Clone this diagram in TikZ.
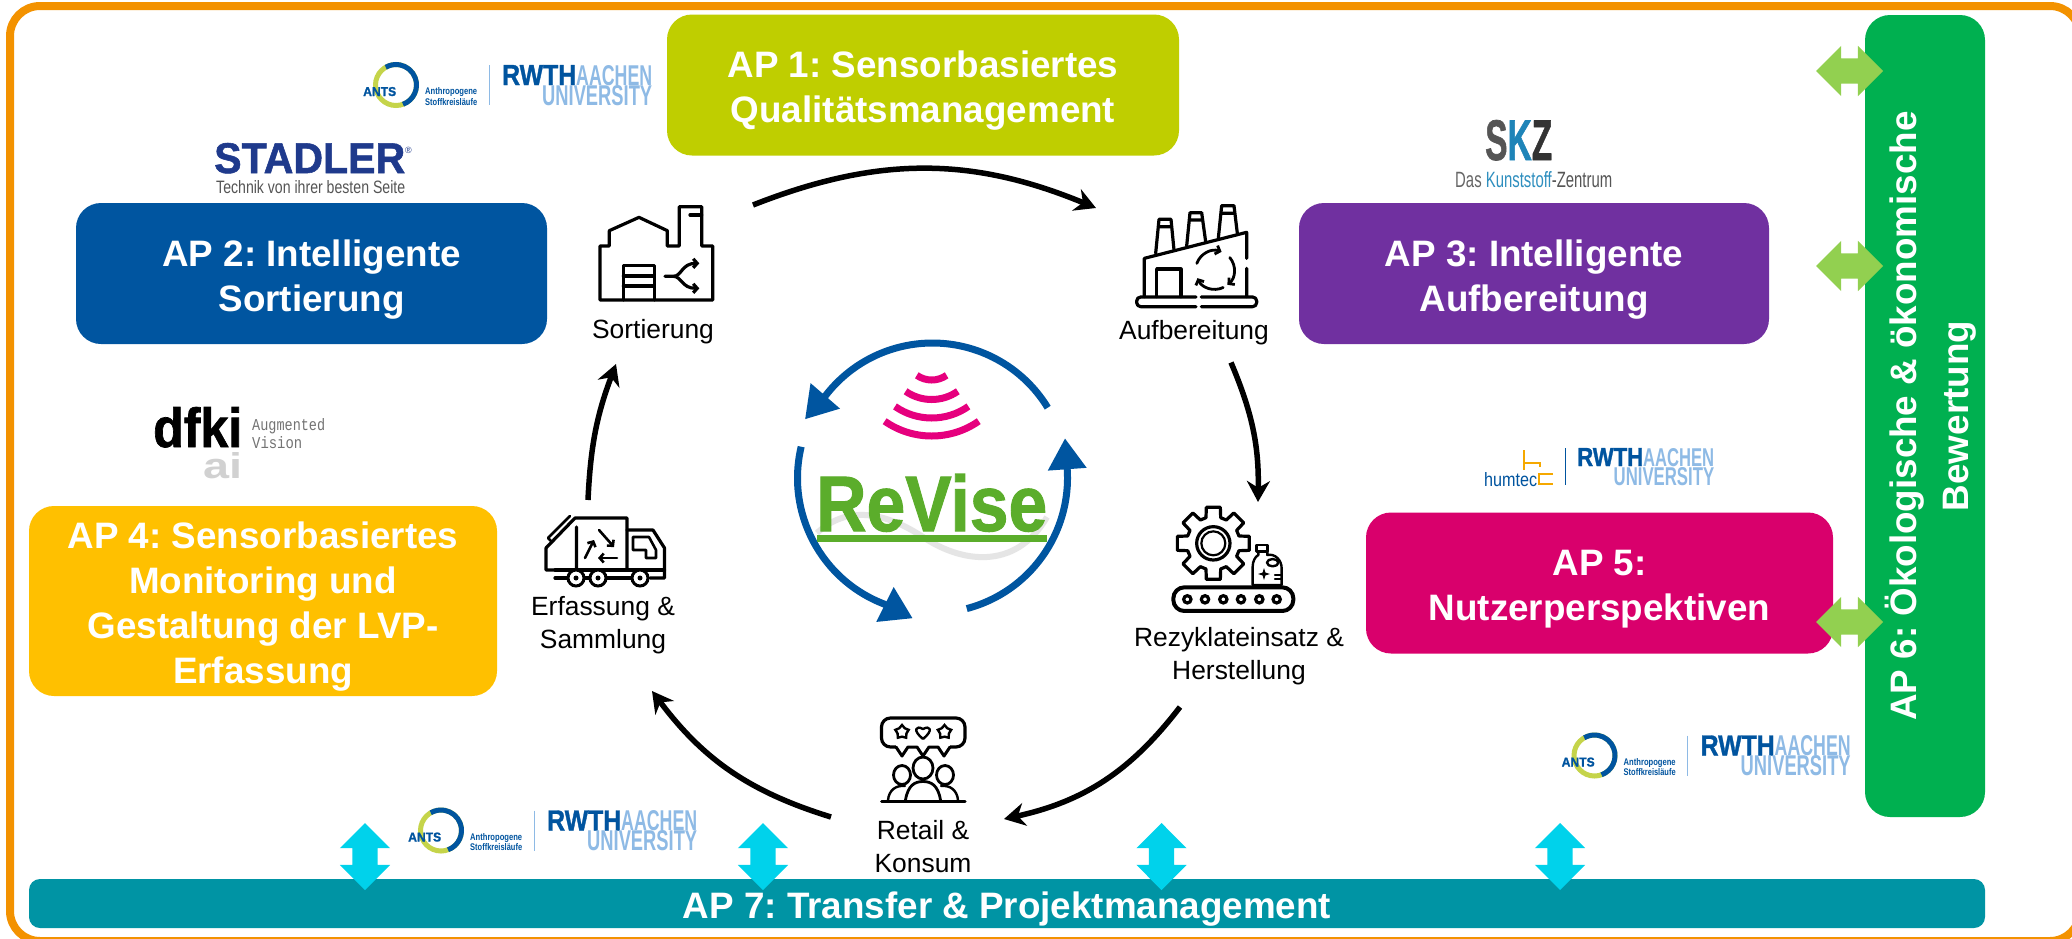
\documentclass[tikz,border=0pt]{standalone}
\usepackage{fontspec}
\setmainfont{Liberation Sans}
\newfontfamily\logomono{Liberation Mono}
\newfontfamily\heavyfont[UprightFont={* Bold},FakeBold=1.3]{Liberation Sans}
\usetikzlibrary{arrows.meta,shapes.arrows,shapes.geometric}
\definecolor{frameorange}{HTML}{F39200}
\definecolor{apyellow}{HTML}{BFCE00}
\definecolor{apblue}{HTML}{0055A0}
\definecolor{appurple}{HTML}{7030A0}
\definecolor{apamber}{HTML}{FFC000}
\definecolor{apmagenta}{HTML}{D9006C}
\definecolor{apgreen}{HTML}{00B050}
\definecolor{apteal}{HTML}{0094A4}
\definecolor{arrowgreen}{HTML}{92D050}
\definecolor{arrowcyan}{HTML}{00D2EB}
\definecolor{revisegreen}{HTML}{5BAD2B}
\definecolor{sensorpink}{HTML}{E6007E}
\definecolor{rwthblue}{HTML}{00549F}
\definecolor{rwthlight}{HTML}{8EBAE5}
\definecolor{antsyellow}{HTML}{C5D44A}
\definecolor{humorange}{HTML}{F5A800}
\newcommand{\fitlogo}[3]{\resizebox{#1pt}{#2pt}{#3}}
\newcommand{\aprule}{\rule{0pt}{38pt}}
\tikzset{
  apbox/.style={fill=#1,rounded corners=25pt,text=white,align=center,inner sep=0pt,%
    font=\fontsize{36.8}{45}\selectfont\bfseries\frenchspacing},
  steplabel/.style={align=center,inner sep=0pt,font=\fontsize{26.4}{33}\selectfont},
  logotext/.style={inner sep=0pt,anchor=base west},
  greenarrow/.style={shape=double arrow,fill=arrowgreen,inner sep=0pt,minimum height=67pt,%
    text height=12.5pt,text depth=12.5pt,double arrow head extend=12.5pt},
  cyanarrow/.style={shape=double arrow,fill=arrowcyan,inner sep=0pt,minimum height=67pt,%
    text height=12.5pt,text depth=12.5pt,double arrow head extend=12.5pt,rotate=90},
  cyclearrow/.style={line width=5.5pt,-{Stealth[length=21pt,width=23pt]}},
  bluearc/.style={line width=7pt,draw=apblue,-{Triangle[length=31pt,width=37pt]}},
  sensorarc/.style={line width=7pt,draw=sensorpink},
  icon/.style={draw=black,line width=3.2pt,line join=round,line cap=round},
  iconarrow/.style={icon,-{Straight Barb[length=4pt,width=9pt]}},
  rwthlogo/.pic={
    \draw[line width=5pt,antsyellow] (0,0) circle[radius=20.5] ;
    \draw[line width=5pt,rwthblue] (0,0) ++(70:20.5) arc[start angle=70,end angle=-120,radius=20.5] ;
    \node[logotext] (-ants) at (-33,11) {\color{rwthblue}\fitlogo{33}{9}{\heavyfont ANTS}} ;
    \node[logotext] (-ant1) at (29,9.5) {\color{rwthblue}\fitlogo{52}{7}{\bfseries Anthropogene}} ;
    \node[logotext] (-ant2) at (29,20) {\color{rwthblue}\fitlogo{52}{7}{\bfseries Stoffkreisläufe}} ;
    \draw[line width=1pt,rwthlight] (93,-20)--(93,20) ;
    \node[logotext] (-rwth) at (106,0) {\color{rwthblue}\fitlogo{74}{20}{\heavyfont RWTH}} ;
    \node[logotext] (-aach) at (180,0) {\color{rwthlight}\fitlogo{76}{20}{\bfseries AACHEN}} ;
    \node[logotext] (-univ) at (146,20) {\color{rwthlight}\fitlogo{110}{20}{\bfseries UNIVERSITY}} ;
  }
}
\begin{document}
\begin{tikzpicture}[x=1pt,y=-1pt]
      \clip (0,0) rectangle (2072,938) ;
      \fill[white] (0,0) rectangle (2072,938) ;
      \draw[line width=8pt,frameorange,rounded corners=30pt] (10,6) rectangle (2080,941) ;
      \node[apbox=apyellow,minimum width=512pt,minimum height=141pt] %
      (AP1) at (923,85) {\aprule AP 1: Sensorbasiertes\\Qualitätsmanagement} ;
      \node[apbox=apblue,minimum width=471pt,minimum height=141pt] %
      (AP2) at (311.5,273.5) {\aprule AP 2: Intelligente\\Sortierung} ;
      \node[apbox=appurple,minimum width=470pt,minimum height=141pt] %
      (AP3) at (1534,273.5) {\aprule AP 3: Intelligente\\Aufbereitung} ;
      \node[apbox=apamber,minimum width=468pt,minimum height=190pt] %
      (AP4) at (263,601) {\aprule AP 4: Sensorbasiertes\\Monitoring und\\Gestaltung der LVP-\\Erfassung} ;
      \node[apbox=apmagenta,minimum width=467pt,minimum height=141pt] %
      (AP5) at (1599.5,583) {\aprule AP 5:\\Nutzerperspektiven} ;
      \node[apbox=apgreen,rotate=90,minimum width=802pt,minimum height=120pt] %
      (AP6) at (1925,416) {\rule{0pt}{43pt}AP 6: Ökologische \& ökonomische\\[7pt]Bewertung} ;
      \node[apbox=apteal,rounded corners=11pt,minimum width=1956pt,minimum height=49pt] %
      (AP7) at (1007,903.5) {\aprule AP 7: Transfer \& Projektmanagement} ;
      \node[greenarrow] (G1) at (1849.5,71) {} ;
      \node[greenarrow] (G2) at (1849.5,266) {} ;
      \node[greenarrow] (G3) at (1849.5,622) {} ;
      \node[cyanarrow] (C1) at (365,856.5) {} ;
      \node[cyanarrow] (C2) at (763,856.5) {} ;
      \node[cyanarrow] (C3) at (1161.5,856.5) {} ;
      \node[cyanarrow] (C4) at (1560,856.5) {} ;
      \node[steplabel] (Sort) at (653,331.5) {Sortierung} ;
      \node[steplabel] (Aufb) at (1194,333) {Aufbereitung} ;
      \node[steplabel] (Rezy) at (1239,656) {Rezyklateinsatz \&\\Herstellung} ;
      \node[steplabel] (Reta) at (923,847) {Retail \&\\Konsum} ;
      \node[steplabel] (Erfa) at (603,625.5) {Erfassung \&\\Sammlung} ;
      \coordinate (S1) at (753,205) ;
      \coordinate (E1) at (1096,208) ;
      \coordinate (S2) at (1231,362.5) ;
      \coordinate (E2) at (1258,502) ;
      \coordinate (S3) at (1180,707) ;
      \coordinate (E3) at (1004,819) ;
      \coordinate (S4) at (831,817) ;
      \coordinate (E4) at (652,691) ;
      \coordinate (S5) at (588,500) ;
      \coordinate (E5) at (616,364) ;
      \draw[cyclearrow] (S1) to[bend left=22] (E1) ;
      \draw[cyclearrow] (S2) to[bend left=12] (E2) ;
      \draw[cyclearrow] (S3) to[bend left=20] (E3) ;
      \draw[cyclearrow] (S4) to[bend left=18] (E4) ;
      \draw[cyclearrow] (S5) to[bend left=9] (E5) ;
      \coordinate (RC) at (932.5,478) ;
      \coordinate (T1) at (805,419.3) ;
      \coordinate (T2) at (912.7,618.3) ;
      \coordinate (T3) at (1065,438.3) ;
      \draw[bluearc] (RC) ++(-31.4:135) arc[start angle=-31.4,end angle=-142,radius=135]--(T1) ;
      \draw[bluearc] (RC) ++(-166.6:135) arc[start angle=-166.6,end angle=-249,radius=135]--(T2) ;
      \draw[bluearc] (RC) ++(-284.7:135) arc[start angle=-284.7,end angle=-364,radius=135]--(T3) ;
      \coordinate (SA) at (931.7,354) ;
      \foreach \r in {26,45.5,64,82} {
        \draw[sensorarc] (SA) ++(55:\r) arc[start angle=55,end angle=125,radius=\r] ;
      }
      \draw[line width=6pt,black!10] (817,533) .. controls (847,505) and (885,512) .. (923,537) %
      .. controls (960,562) and (1015,572) .. (1047,517) ;
      \node[logotext] (RV) at (816,531) {\color{revisegreen}\fitlogo{231}{57}{\heavyfont ReVise}} ;
      \fill[revisegreen] (816.7,535) rectangle (1047,541.7) ;
      \pic (L1) at (396,85) {rwthlogo} ;
      \pic (L2) at (441,830.5) {rwthlogo} ;
      \pic (L3) at (1594.5,755.5) {rwthlogo} ;
      \node[logotext] (St) at (214,173) {\color[HTML]{1F3A8C}\fitlogo{191}{30}{\heavyfont STADLER}} ;
      \node[logotext] (Sr) at (405,153) {\color[HTML]{1F3A8C}\fontsize{9}{9}\selectfont ®} ;
      \node[logotext] (St2) at (216,193) {\color[HTML]{555555}\fitlogo{189}{13}{Technik von ihrer besten Seite}} ;
      \node[logotext] (Sk) at (1485,160) {\fitlogo{67}{40}{\heavyfont\textcolor[HTML]{555555}{S}\textcolor[HTML]{1E84B8}{K}\textcolor[HTML]{333333}{Z}}} ;
      \node[logotext] (Sk2) at (1455,187) {\fitlogo{157}{16}{\textcolor[HTML]{666666}{Das }\textcolor[HTML]{2F8FBF}{Kunststoff}\textcolor[HTML]{555555}{-Zentrum}}} ;
      \node[logotext] (Df) at (153,447) {\fitlogo{89}{40}{\heavyfont dfki}} ;
      \node[logotext] (Df2) at (203,478) {\color{black!18}\fitlogo{39}{26}{\bfseries ai}} ;
      \node[logotext] (Df3) at (252,430) {\color{black!55}\fitlogo{73}{12}{\logomono Augmented}} ;
      \node[logotext] (Df4) at (252,448) {\color{black!55}\fitlogo{50}{12}{\logomono Vision}} ;
      \node[logotext] (Hu) at (1484,486) {\color{rwthblue}\fitlogo{53}{14}{humtec}} ;
      \draw[line width=2pt,humorange] (1524,450)--(1524,470) (1524,462.5)--(1540,462.5)--(1540,467) ;
      \draw[line width=2pt,humorange] (1553,474)--(1539,474)--(1539,484)--(1553,484) ;
      \draw[line width=1pt,rwthblue] (1565.5,448)--(1565.5,485) ;
      \node[logotext] (Hr) at (1577,466) {\color{rwthblue}\fitlogo{66}{18}{\heavyfont RWTH}} ;
      \node[logotext] (Ha) at (1643,466) {\color{rwthlight}\fitlogo{71}{18}{\bfseries AACHEN}} ;
      \node[logotext] (Hv) at (1613.5,485) {\color{rwthlight}\fitlogo{100.5}{18}{\bfseries UNIVERSITY}} ;
      \begin{scope}[shift={(590,200)},x=0.3333pt,y=-0.3333pt]
        \draw[icon] (30,300)--(30,138)--(58,138)--(58,92)--(147,52)--(232,92)--(232,138)--(268,138) %
        --(268,20)--(335,20)--(335,138)--(368,138)--(368,300)--cycle ;
        \draw[icon] (300,45)--(335,45) ;
        \draw[icon] (100,300)--(100,197)--(193,197)--(193,300) (100,228)--(193,228) (100,258)--(193,258) ;
        \draw[iconarrow] (225,229)--(250,229) .. controls (275,229) and (275,190) .. (328,190) ;
        \draw[iconarrow] (250,229) .. controls (275,229) and (275,265) .. (328,265) ;
      \end{scope}
      \begin{scope}[shift={(1110,200)},x=0.3333pt,y=-0.3333pt]
        \draw[icon,rounded corners=4pt] (258,320)--(80,320)--(80,291)--(258,291) ;
        \draw[icon,rounded corners=4pt] (274,291)--(440,291)--(440,320)--(274,320) ;
        \draw[icon] (103,290)--(103,175)--(410,97)--(410,175) (410,205)--(410,290) ;
        \draw[icon] (140,290)--(140,207)--(213,207)--(213,290) ;
        \draw[icon] (137,160)--(147,58)--(183,58)--(192,150) (145,80)--(185,80) ;
        \draw[icon] (230,138)--(240,38)--(275,38)--(287,125) (238,60)--(278,60) ;
        \draw[icon] (325,115)--(335,17)--(372,17)--(382,100) (333,40)--(375,40) ;
        \foreach \a in {-160,-40,65} {
          \draw[iconarrow,line width=2.8pt] (315,210) ++(\a:58) arc[start angle=\a,end angle=\a+90,radius=58] ;
        }
      \end{scope}
      \begin{scope}[shift={(1160,500)},x=0.3333pt,y=-0.3333pt]
        \begin{scope}[shift={(160,130)}]
          \draw[icon] (-16:80) \foreach \a in {0,45,...,315} {
            --({\a-16}:80)--({\a-11}:110)--({\a+11}:110)--({\a+16}:80) } --cycle ;
          \draw[icon] (0,0) circle[radius=50] ;
          \draw[line width=2.2pt] (0,0) circle[radius=36] ;
        \end{scope}
        \draw[icon,line width=2.4pt,fill=white] (295,155)--(295,165) .. controls (285,170) and (278,185) .. (278,200) %
        --(278,255)--(365,255)--(365,205) .. controls (365,180) and (345,160) .. (322,165)--(322,155)--cycle ;
        \draw[icon,line width=2.4pt,fill=white] (290,135) rectangle (322,155) ;
        \draw[icon,line width=2.4pt] (338,188) ellipse[x radius=17,y radius=11] ;
        \node[shape=star,star points=4,star point ratio=3,fill=black,inner sep=0pt,minimum size=12pt] %
        (BS) at (312,222) {} ;
        \draw[icon,line width=2.2pt] (345,225)--(362,225) (345,237)--(362,237) ;
        \draw[icon,line width=4pt,rounded corners=11pt] (40,262) rectangle (400,333) ;
        \foreach \x in {82,135,190,243,298,350} {
          \draw[line width=3.2pt] (\x,298) circle[radius=11] ;
        }
      \end{scope}
      \draw[icon,rounded corners=9pt] (881.5,718) rectangle (965,747) ;
      \fill[white] (896,744) rectangle (950,750) ;
      \draw[icon,line width=3pt] (896,747)--(902,756)--(908,747)--(917,747)--(923,756)--(929,747) %
      --(938,747)--(944,756)--(950,747) ;
      \node[shape=star,star points=5,draw=black,line width=2.4pt,inner sep=0pt,minimum size=14pt] (Fs1) at (902,732) {} ;
      \node[shape=star,star points=5,draw=black,line width=2.4pt,inner sep=0pt,minimum size=14pt] (Fs2) at (944.5,732) {} ;
      \draw[line width=2.4pt,line join=round] (923,739) .. controls (912,730) and (916,725) .. (923,729) %
      .. controls (930,725) and (934,730) .. (923,739) ;
      \draw[icon,line width=2.8pt] (923,768) ellipse[x radius=10,y radius=11] ;
      \draw[icon,line width=2.8pt] (902,775) ellipse[x radius=8.5,y radius=9.5] ;
      \draw[icon,line width=2.8pt] (945,775) ellipse[x radius=8.5,y radius=9.5] ;
      \draw[icon,line width=2.8pt] (905.5,800) .. controls (908,785) and (915,781.5) .. (923,781.5) %
      .. controls (931,781.5) and (938,785) .. (940.5,800) ;
      \draw[icon,line width=2.4pt] (888,800) .. controls (889,790) and (896,785) .. (905,786) ;
      \draw[icon,line width=2.4pt] (958,800) .. controls (957,790) and (950,785) .. (941,786) ;
      \draw[icon,line width=3pt] (881.5,801)--(965,801) ;
      \draw[icon] (555,570)--(546,570)--(546,548)--(575,518)--(627,518)--(627,570) ;
      \draw[icon] (576.5,527)--(576.5,570) (627,530)--(653,530)--(664.5,548)--(664.5,578)--(650,578) ;
      \draw[icon] (555,570)--(664.5,570) (555,578)--(568,578) (584,578)--(590,578) (606,578)--(631,578) ;
      \draw[icon,line width=2.6pt] (633,537)--(649,537)--(656,550)--(656,558)--(646,558)--(646,550)--(633,550)--cycle ;
      \draw[icon,line width=2.6pt] (548,538)--(570,516) (548,538)--(552,542) ;
      \foreach \x in {576,598,640} {
        \draw[line width=3pt,fill=white] (\x,578) circle[radius=8] ;
        \fill (\x,578) circle[radius=2.5] ;
      }
      \draw[iconarrow,line width=2.6pt] (585,558)--(594,540) ;
      \draw[iconarrow,line width=2.6pt] (599,530)--(614,547) ;
      \draw[iconarrow,line width=2.6pt] (617,558)--(598,558) ;
    \end{tikzpicture}
\end{document}
